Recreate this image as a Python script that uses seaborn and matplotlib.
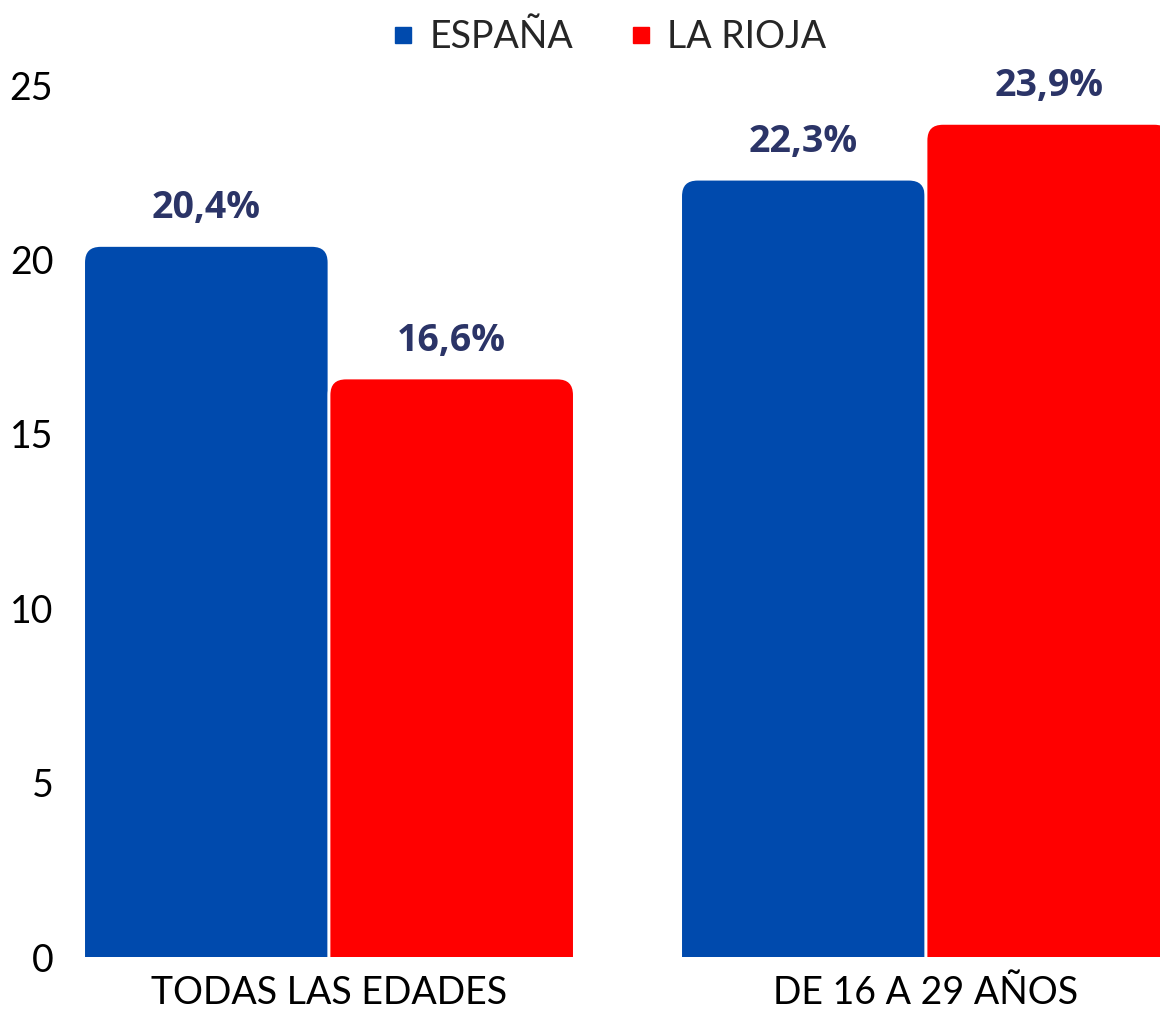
import matplotlib
matplotlib.use("Agg")
import matplotlib.pyplot as plt
from matplotlib.patches import FancyBboxPatch
from matplotlib.lines import Line2D
import seaborn as sns
import pandas as pd

sns.set_theme(style="white")
plt.rcParams['font.family'] = ['Lato', 'DejaVu Sans']

grupos = ['TODAS LAS EDADES', 'DE 16 A 29 AÑOS']
series = ['ESPAÑA', 'LA RIOJA']
espana = [20.4, 22.3]
la_rioja = [16.6, 23.9]
colores = ['#004AAD', '#FF0000']
color_etiqueta = '#2B3467'

df = pd.DataFrame({
    'grupo': grupos * 2,
    'serie': [series[0]] * 2 + [series[1]] * 2,
    'valor': espana + la_rioja,
})

fig = plt.figure(figsize=(11.6, 10.13), dpi=100)
ax = fig.add_axes([70 / 1160, 56 / 1013, 1 - 70 / 1160, 872 / 1013])

sns.barplot(data=df, x='grupo', y='valor', hue='serie', order=grupos,
            hue_order=series, palette=colores, width=0.822, saturation=1,
            legend=False, ax=ax)

# replace the square bars with ones rounded on top
px_x = 597.0   # pixels per category unit
px_y = 872 / 25.0
r_px = 17
for cont, col in zip(ax.containers, colores):
    for bar in list(cont):
        x, w, h = bar.get_x(), bar.get_width(), bar.get_height()
        bar.remove()
        rx = r_px / px_x
        patch = FancyBboxPatch((x, -2), w, h + 2,
                               boxstyle=f"round,pad=0,rounding_size={rx}",
                               mutation_aspect=px_x / px_y,
                               facecolor=col, edgecolor='white', linewidth=2)
        ax.add_patch(patch)

# value labels
for cont_vals, off in zip([espana, la_rioja], [-0.2055, 0.2055]):
    for i, v in enumerate(cont_vals):
        ax.annotate(f"{v:.1f}%".replace('.', ','), (i + off, v),
                    xytext=(0, 13), textcoords='offset points',
                    ha='center', va='bottom', fontsize=27, fontweight='bold',
                    family=['Open Sans', 'DejaVu Sans'], color=color_etiqueta,
                    annotation_clip=False)

ax.set_xlim((70 - 329) / px_x, (1160 - 329) / px_x)
ax.set_ylim(0, 25)
ax.set_yticks([0, 5, 10, 15, 20, 25])
ax.tick_params(axis='y', labelsize=27, pad=12, length=0, colors='black')
ax.tick_params(axis='x', labelsize=27, pad=13, length=0, colors='black')
ax.set_xlabel('')
ax.set_ylabel('')
for s in ax.spines.values():
    s.set_visible(False)

handles = [Line2D([], [], marker='s', linestyle='', markersize=11,
                  markerfacecolor=c, markeredgecolor=c) for c in colores]
fig.legend(handles, series, loc='center', bbox_to_anchor=(0.52, 0.963),
           ncol=2, frameon=False, fontsize=27, handletextpad=0.1,
           handlelength=1.2, columnspacing=1.2)

fig.savefig('out.png', dpi=100)
